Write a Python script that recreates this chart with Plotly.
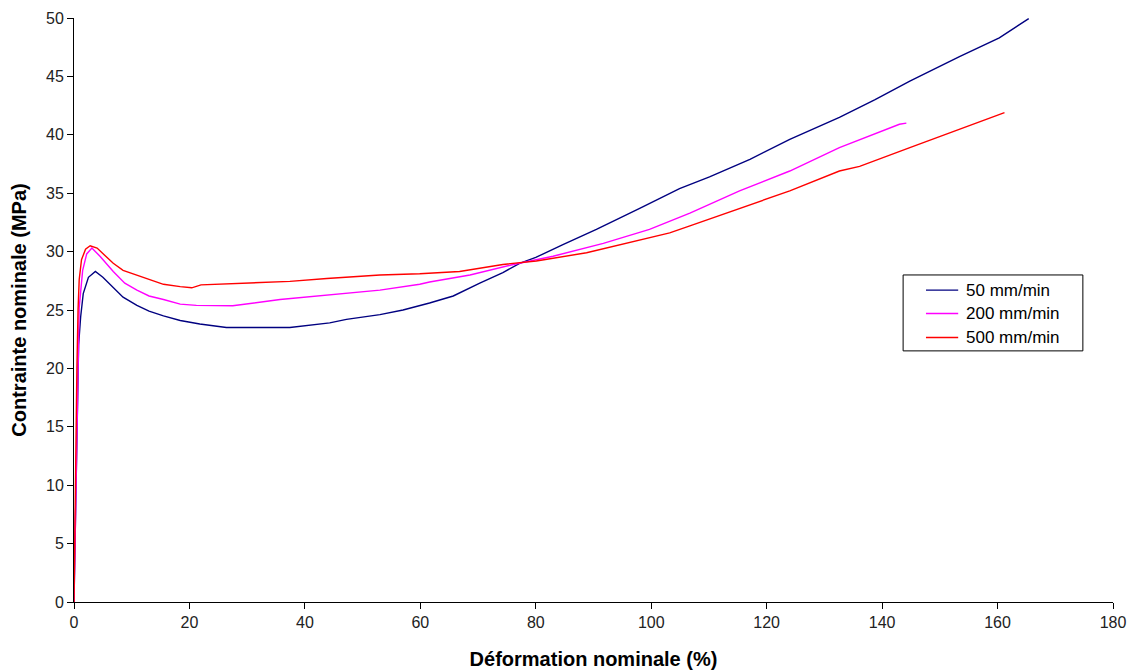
import plotly.graph_objects as go

# 50 mm/min
x_50 = [0, 0.1, 0.3, 0.5, 0.6, 0.8, 1.15, 1.6, 2.5, 3.7, 5.0, 6.8, 8.5, 10.9, 13.0, 15.5, 18.4, 21.8, 26.4, 30, 37.4, 44.3, 47.2, 53, 57, 61.6,
        65.7, 70.3, 74.3, 77.2, 80, 84.7, 90.5, 98, 104.9, 110.1, 117.1, 124, 132.6, 138.7, 144.8, 153.4, 160.3, 165.4]
y_50 = [0, 2.5, 8.5, 13, 17, 22, 24.4, 26.4, 27.8, 28.3, 27.8, 26.9, 26.1, 25.4, 24.9, 24.5, 24.1, 23.8, 23.5, 23.5, 23.5, 23.9, 24.2, 24.6, 25.0, 25.6,
        26.2, 27.3, 28.2, 29.0, 29.5, 30.6, 31.9, 33.7, 35.4, 36.4, 37.9, 39.6, 41.5, 43.0, 44.6, 46.7, 48.3, 49.95]

# 200 mm/min
x_200 = [0, 0.1, 0.35, 0.6, 0.9, 1.5, 2.2, 3.1, 4.5, 6.8, 8.8, 10.9, 13.0, 15.5, 18.4, 21.2, 27.5, 35.7, 44.3, 53, 59.9, 61.6,
         68.6, 76.1, 83.0, 91.7, 99.7, 106.7, 115.3, 124, 132.6, 143, 144.2]
y_200 = [0, 3, 12, 20, 25.2, 28.4, 29.8, 30.3, 29.6, 28.3, 27.3, 26.7, 26.2, 25.9, 25.5, 25.4, 25.36, 25.9, 26.3, 26.7, 27.2, 27.4,
         28.0, 28.9, 29.6, 30.7, 31.9, 33.3, 35.2, 36.9, 38.9, 40.9, 41.0]

# 500 mm/min
x_500 = [0, 0.1, 0.3, 0.5, 0.7, 0.9, 1.3, 2.0, 2.8, 4.0, 5.5, 6.8, 8.5, 10.9, 13.0, 15.5, 18.4, 20.4, 22.0, 29.3, 37.4, 43.8, 53, 59.9,
         66.8, 74.3, 80.1, 88.8, 97.4, 103.2, 106.7, 115.3, 124, 132.6, 136.1, 144.8, 153.4, 161.2]
y_500 = [0, 5, 15, 20, 25, 27.6, 29.3, 30.2, 30.5, 30.3, 29.6, 29.0, 28.4, 28.0, 27.6, 27.2, 27.0, 26.9, 27.15, 27.3, 27.45, 27.7, 28.0, 28.1,
         28.3, 28.9, 29.2, 29.9, 30.9, 31.6, 32.2, 33.7, 35.2, 36.9, 37.3, 38.9, 40.45, 41.9]

series_names = ["50 mm/min", "200 mm/min", "500 mm/min"]
series_colors = ["#000080", "#FF00FF", "#FF0000"]

x_ticks = [0, 20, 40, 60, 80, 100, 120, 140, 160, 180]
y_ticks = [0, 5, 10, 15, 20, 25, 30, 35, 40, 45, 50]

FONT = "Liberation Sans, Arial, sans-serif"

fig = go.Figure()
for xs, ys, name, color in zip([x_50, x_200, x_500], [y_50, y_200, y_500], series_names, series_colors):
    fig.add_trace(go.Scatter(x=xs, y=ys, mode="lines", name=name, showlegend=False,
                             line=dict(color=color, width=1.4)))

# Boxed legend (Excel style), placed in paper coordinates
box_x0, box_x1, box_y0, box_y1 = 0.798, 0.971, 0.430, 0.560
item_y = [0.534, 0.494, 0.453]
line_x0, line_x1, text_x = 0.820, 0.851, 0.857

shapes = [dict(type="rect", xref="paper", yref="paper", x0=box_x0, x1=box_x1, y0=box_y0, y1=box_y1,
               line=dict(color="#000000", width=1), fillcolor="white", layer="above")]
annotations = []
for name, color, yy in zip(series_names, series_colors, item_y):
    shapes.append(dict(type="line", xref="paper", yref="paper", x0=line_x0, x1=line_x1, y0=yy, y1=yy,
                       line=dict(color=color, width=1.4), layer="above"))
    annotations.append(dict(xref="paper", yref="paper", x=text_x, y=yy, text=name, showarrow=False,
                            xanchor="left", yanchor="middle",
                            font=dict(family=FONT, size=17, color="#000000")))

axis_font = dict(family=FONT, size=16, color="#222222")
title_font = dict(family=FONT, size=20, color="#000000")

fig.update_layout(
    width=1131, height=672,
    paper_bgcolor="white", plot_bgcolor="white",
    margin=dict(l=74, r=18, t=18, b=70, autoexpand=False),
    showlegend=False,
    shapes=shapes,
    annotations=annotations,
    xaxis=dict(range=[0, 180], tickvals=x_ticks, showgrid=False, zeroline=False,
               automargin=False,
               showline=True, linecolor="#000000", linewidth=1,
               ticks="outside", ticklen=6, tickcolor="#000000",
               tickfont=axis_font,
               title=dict(text="<b>Déformation nominale (%)</b>", font=title_font, standoff=21)),
    yaxis=dict(range=[0, 50], tickvals=y_ticks, showgrid=False, zeroline=False,
               automargin=False,
               showline=True, linecolor="#000000", linewidth=1,
               ticks="outside", ticklen=6, tickcolor="#000000",
               tickfont=axis_font,
               title=dict(text="<b>Contrainte nominale (MPa)</b>", font=title_font, standoff=14)),
)

# remove the page's default body margin so the figure fills the window exactly
fig.write_html("out.html", config={"displayModeBar": False},
               post_script="document.body.style.margin='0';")
